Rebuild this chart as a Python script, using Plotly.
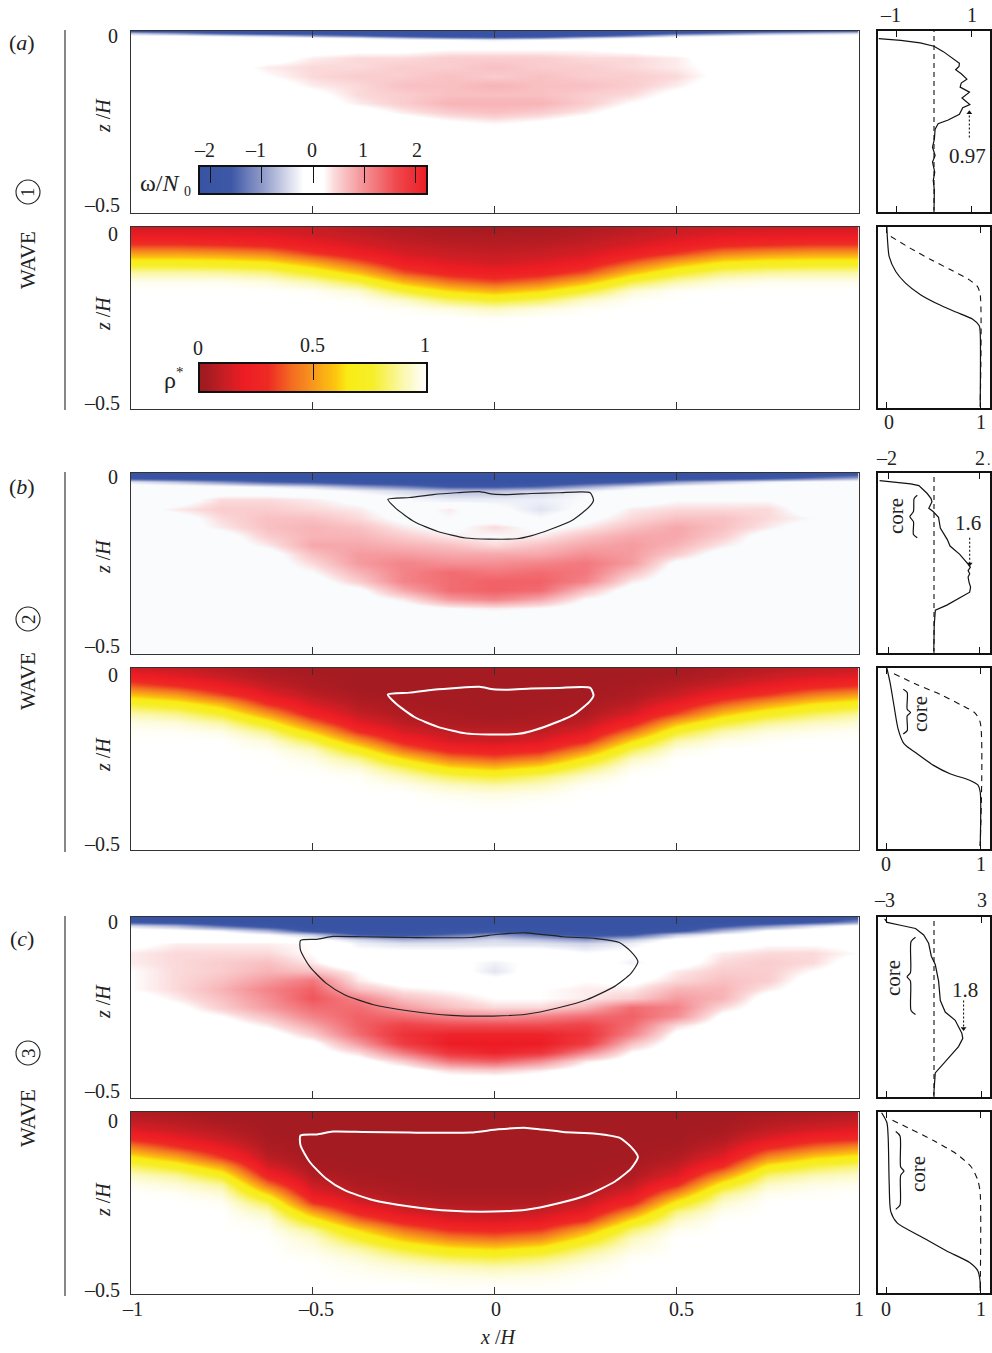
import plotly.graph_objects as go

W, H = 992, 1353
SERIF = "Liberation Serif"

# ---- station positions shared by all field tables
x_st = [-1, -.875, -.75, -.625, -.5, -.375, -.25, -.125, 0, .125, .25, .375, .5, .625, .75, .875, 1]

# ---- density tables: rho* in percent, read column by column from the colour bands
rho_rows = [0, .025, .05, .075, .1, .125, .15, .175, .2, .225, .25, .275, .3, .325, .35, .375, .4, .425, .45, .475, .5]
rho_a = [
 [12,12,12,11,10,7,5,4,3,4,5,7,10,11,12,12,12],
 [19,19,18,17,13,10,7,5,5,5,7,10,13,17,18,19,19],
 [32,32,30,27,20,14,10,8,7,8,10,14,20,27,30,32,32],
 [52,52,50,46,33,22,14,11,10,11,14,22,33,46,50,52,52],
 [71,71,70,66,54,38,21,16,13,16,21,38,54,66,70,71,71],
 [89,89,88,85,74,58,36,25,21,25,36,58,74,85,88,89,89],
 [98,98,98,96,90,78,56,42,35,42,56,78,90,96,98,98,98],
 [100,100,100,100,99,94,76,62,55,62,76,94,99,100,100,100,100],
 [100,100,100,100,100,99,93,81,75,81,93,99,100,100,100,100,100],
 [100,100,100,100,100,100,99,96,92,96,99,100,100,100,100,100,100],
 [100,100,100,100,100,100,100,100,99,100,100,100,100,100,100,100,100],
 [100]*17,[100]*17,[100]*17,[100]*17,[100]*17,[100]*17,[100]*17,[100]*17,[100]*17,[100]*17,
]
rho_b = [
 [12,10,7,4,3,3,3,3,3,3,3,3,3,5,7,9,10],
 [22,17,11,6,4,3,3,3,3,3,3,3,4,7,11,15,17],
 [38,30,20,10,5,3,3,3,3,3,3,4,7,12,19,26,31],
 [58,50,34,17,8,4,3,3,3,3,3,5,11,22,32,44,51],
 [76,70,56,30,14,6,4,3,3,3,4,8,20,38,52,64,71],
 [90,86,75,50,24,10,5,4,3,4,5,14,34,58,72,81,87],
 [97,95,89,70,41,17,8,5,5,5,9,25,56,76,87,92,95],
 [99,99,97,86,61,30,14,9,8,9,16,42,75,90,96,98,99],
 [100,100,100,95,79,50,25,14,12,15,28,62,89,97,99,100,100],
 [100,100,100,99,92,70,42,26,22,27,47,80,97,100,100,100,100],
 [100,100,100,100,97,86,63,44,38,45,67,92,100,100,100,100,100],
 [100,100,100,100,99,95,81,64,58,66,83,98,100,100,100,100,100],
 [100,100,100,100,100,99,92,82,77,84,94,100,100,100,100,100,100],
 [100,100,100,100,100,100,98,93,90,93,99,100,100,100,100,100,100],
 [100,100,100,100,100,100,100,98,97,98,100,100,100,100,100,100,100],
 [100,100,100,100,100,100,100,100,99,100,100,100,100,100,100,100,100],
 [100]*17,[100]*17,[100]*17,[100]*17,[100]*17,
]
rho_c = [
 [6,4,3,3,3,3,3,3,3,3,3,3,3,3,4,5,6],
 [9,7,4,3,3,3,3,3,3,3,3,3,3,3,6,8,10],
 [16,11,7,3,3,3,3,3,3,3,3,3,3,4,9,14,17],
 [28,19,11,4,3,3,3,3,3,3,3,3,3,6,16,25,29],
 [47,33,19,5,3,3,3,3,3,3,3,3,4,10,29,41,49],
 [67,54,33,8,3,3,3,3,3,3,3,3,6,17,48,62,69],
 [83,73,54,14,4,3,3,3,3,3,3,4,10,30,68,79,85],
 [93,88,73,25,6,4,3,3,3,3,3,5,16,50,84,91,94],
 [98,95,88,42,11,5,4,3,3,3,4,9,29,70,93,97,98],
 [100,99,95,62,18,8,5,4,4,4,6,16,48,86,98,99,100],
 [100,100,99,80,31,14,8,6,6,6,11,27,68,94,100,100,100],
 [100,100,100,91,52,25,14,10,9,11,18,46,85,98,100,100,100],
 [100,100,100,97,71,42,25,17,15,18,31,66,93,100,100,100,100],
 [100,100,100,99,87,62,42,30,27,32,52,83,98,100,100,100,100],
 [100,100,100,100,94,76,58,46,42,48,68,92,100,100,100,100,100],
 [100,100,100,100,97,89,76,66,62,68,84,96,100,100,100,100,100],
 [100,100,100,100,99,95,88,81,78,83,92,99,100,100,100,100,100],
 [100,100,100,100,100,98,95,92,90,92,97,100,100,100,100,100,100],
 [100,100,100,100,100,99,98,97,96,97,99,100,100,100,100,100,100],
 [100,100,100,100,100,100,100,99,99,99,100,100,100,100,100,100,100],
 [100]*17,
]

# ---- vorticity tables: omega/N0 times ten; a fine table for the surface layer, a coarser one below
om_top_rows_a = [0, .00625, .0125, .01875, .025]
om_top_a = [
 [-22,-22,-22,-22,-22,-22,-22,-22,-22,-22,-22,-22,-22,-22,-22,-20,-18],
 [-8,-12,-18,-22,-22,-22,-22,-22,-22,-22,-22,-22,-18,-14,-10,-8,-6],
 [-1,-2,-4,-6,-10,-14,-20,-22,-22,-22,-18,-12,-5,-3,-1,0,0],
 [0,0,0,-1,-2,-4,-8,-12,-14,-12,-6,-3,-1,0,0,0,0],
 [0,0,0,0,0,0,-1,-2,-3,-2,-1,0,0,0,0,0,0],
]
om_low_rows_a = [.025, .05, .075, .1, .125, .15, .175, .2, .225, .25, .275, .3, .325, .35, .375, .4, .425, .45, .475, .5]
om_low_a = [
 [0,0,0,0,0,0,-1,-2,-3,-2,-1,0,0,0,0,0,0],
 [0,0,0,0,0,1,1,2,2,2,2,1,0,0,0,0,0],
 [0,0,0,0,3,4,4,5,5,5,4,4,3,0,0,0,0],
 [0,0,0,3,4,4,5,5,6,5,5,4,3,1,0,0,0],
 [0,0,0,2,4,5,5,6,5,6,5,5,4,1,0,0,0],
 [0,0,0,0,3,4,6,6,7,6,6,5,3,0,0,0,0],
 [0,0,0,0,1,4,5,6,6,6,5,4,1,0,0,0,0],
 [0,0,0,0,0,3,5,7,7,7,5,2,0,0,0,0,0],
 [0,0,0,0,0,0,3,5,6,5,3,0,0,0,0,0,0],
 [0,0,0,0,0,0,0,2,3,2,0,0,0,0,0,0,0],
 [0]*17,[0]*17,[0]*17,[0]*17,[0]*17,[0]*17,[0]*17,[0]*17,[0]*17,[0]*17,
]
om_top_rows_bc = [0, .0125, .025, .0375, .05, .0625, .075]
om_low_rows_bc = [.075, .1, .125, .15, .175, .2, .225, .25, .275, .3, .325, .35, .375, .4, .425, .45, .475, .5]
om_top_b = [
 [-22,-22,-22,-22,-22,-22,-22,-22,-22,-22,-22,-22,-22,-22,-22,-22,-20],
 [-20,-22,-22,-22,-22,-22,-22,-22,-22,-22,-22,-22,-22,-22,-19,-14,-10],
 [-4,-7,-11,-15,-17,-20,-21,-22,-22,-22,-19,-16,-10,-6,-3,-1,0],
 [0,0,-1,-3,-5,-9,-12,-16,-16,-14,-9,-4,-1,0,0,0,0],
 [0,0,0,0,-1,-3,-5,-7,-7,-5,-3,-1,0,0,0,0,0],
 [0,0,2,2,1,-1,-3,-5,-5,-4,-2,0,1,1,1,0,0],
 [0,0,4,4,3,1,-2,-3,-3,-3,-2,0,2,2,2,0,0],
]
om_low_b = [
 [0,0,4,4,3,1,-2,-3,-3,-3,-2,0,2,2,2,0,0],
 [0,3,5,5,4,3,0,3,-1,-4,-1,3,4,4,4,0,0],
 [0,0,4,6,6,4,1,2,0,-2,1,4,6,6,4,2,0],
 [0,0,3,6,7,6,3,1,4,1,3,6,8,6,3,0,0],
 [0,0,0,5,7,7,5,3,2,3,6,8,8,5,0,0,0],
 [0,0,0,3,8,8,7,6,4,6,8,9,7,3,0,0,0],
 [0,0,0,0,6,9,9,8,8,8,10,9,5,0,0,0,0],
 [0,0,0,0,4,9,11,10,10,11,12,9,1,0,0,0,0],
 [0,0,0,0,2,7,11,13,12,13,12,6,0,0,0,0,0],
 [0,0,0,0,0,5,11,13,14,14,11,3,0,0,0,0,0],
 [0,0,0,0,0,1,8,13,14,13,6,0,0,0,0,0,0],
 [0,0,0,0,0,0,3,9,11,8,2,0,0,0,0,0,0],
 [0,0,0,0,0,0,0,2,3,2,0,0,0,0,0,0,0],
 [0]*17,[0]*17,[0]*17,[0]*17,[0]*17,
]
om_top_c = [
 [-22,-22,-22,-22,-22,-22,-22,-22,-22,-22,-22,-22,-22,-22,-22,-22,-18],
 [-18,-20,-22,-22,-22,-22,-22,-22,-22,-22,-22,-22,-22,-22,-22,-18,-11],
 [-5,-8,-14,-19,-22,-22,-22,-22,-22,-22,-22,-22,-22,-17,-11,-5,-1],
 [0,-1,-3,-8,-18,-22,-22,-20,-19,-20,-22,-22,-18,-8,-2,0,0],
 [0,0,0,-2,-6,-16,-18,-14,-10,-14,-18,-16,-6,-2,0,0,0],
 [0,0,0,0,-1,-5,-8,-7,-5,-7,-10,-6,-1,0,0,0,0],
 [1,3,3,3,2,-3,-4,-4,-4,-4,-5,-3,0,0,2,2,1],
]
om_low_c = [
 [1,3,3,3,2,-3,-4,-4,-4,-4,-5,-3,0,0,2,2,1],
 [3,4,4,4,2,-1,-1,-1,0,0,-2,-1,0,3,4,4,2],
 [3,4,5,6,3,-2,0,-1,-3,-1,0,-3,0,4,5,4,0],
 [2,4,5,7,6,2,0,0,-4,0,0,-1,3,5,5,2,0],
 [2,4,6,9,12,3,0,0,-1,0,2,1,4,6,5,0,0],
 [2,4,7,11,14,6,3,2,1,2,3,3,7,7,3,0,0],
 [0,3,6,10,15,11,6,4,2,2,3,5,9,7,0,0,0],
 [0,1,5,9,13,13,9,6,4,4,7,13,11,4,0,0,0],
 [0,0,2,6,11,14,13,11,10,11,13,14,10,1,0,0,0],
 [0,0,0,3,8,14,17,16,16,16,17,13,4,0,0,0,0],
 [0,0,0,0,5,13,19,21,21,21,19,11,1,0,0,0,0],
 [0,0,0,0,1,9,18,22,22,22,18,6,0,0,0,0,0],
 [0,0,0,0,0,4,12,19,21,19,11,2,0,0,0,0,0],
 [0,0,0,0,0,0,5,12,14,10,3,0,0,0,0,0,0],
 [0,0,0,0,0,0,0,4,5,3,0,0,0,0,0,0,0],
 [0]*17,[0]*17,[0]*17,
]

# ---- core outlines
core_b_x = [-.293,-.233,-.169,-.105,-.041,-.003,.036,.1,.176,.263,.272,.26,.215,.151,.1,.061,-.015,-.079,-.156,-.22,-.271,-.293]
core_b_z = [-.074,-.069,-.061,-.056,-.053,-.06,-.061,-.058,-.056,-.056,-.077,-.095,-.131,-.158,-.175,-.183,-.184,-.181,-.163,-.136,-.099,-.074]
core_c_x = [-.533,-.488,-.444,-.361,-.233,-.066,.01,.087,.189,.279,.343,.375,.394,.375,.33,.253,.176,.087,-.003,-.118,-.233,-.335,-.412,-.463,-.508,-.533,-.533]
core_c_z = [-.066,-.063,-.055,-.056,-.058,-.058,-.049,-.045,-.056,-.061,-.072,-.097,-.125,-.157,-.193,-.23,-.252,-.27,-.275,-.273,-.261,-.243,-.216,-.184,-.138,-.093,-.066]

# ---- side profiles
om_prof_a_v = [-1.48,-.89,-.37,0,.25,.55,.68,.67,.58,.73,.88,.73,.70,.95,.75,.96,.77,.68,.38,.11,.03,.01,-.04,.03,-.04,.02,-.02,.01,0]
om_prof_a_z = [-.021,-.026,-.033,-.042,-.057,-.08,-.089,-.098,-.107,-.118,-.133,-.144,-.155,-.169,-.185,-.203,-.212,-.23,-.246,-.256,-.271,-.299,-.321,-.344,-.362,-.39,-.413,-.44,-.496]
rho_prof_a_v = [0,.007,.025,.095,.2,.36,.54,.74,.92,.99,1,1]
rho_prof_a_z = [0,-.036,-.082,-.123,-.155,-.187,-.212,-.235,-.255,-.273,-.291,-.496]
rho_ref_a_v = [.042,.253,.463,.674,.884,.97,1,1]
rho_ref_a_z = [-.026,-.059,-.089,-.117,-.146,-.164,-.187,-.496]

om_prof_b_v = [-2.41,-1.75,-1.03,-.67,-.45,-.30,-.13,-.09,-.23,-.04,.2,.28,.59,.71,1.14,1.41,1.51,1.61,1.51,1.58,1.51,1.55,1.62,1.58,1.07,.57,.06,.01,-.01]
om_prof_b_z = [-.021,-.026,-.03,-.035,-.048,-.057,-.071,-.08,-.098,-.107,-.123,-.153,-.185,-.203,-.226,-.244,-.253,-.262,-.271,-.28,-.289,-.303,-.317,-.331,-.349,-.367,-.381,-.422,-.495]
rho_prof_b_v = [0,.035,.077,.12,.183,.324,.5,.676,.887,.975,1,1]
rho_prof_b_z = [0,-.041,-.105,-.168,-.209,-.237,-.269,-.292,-.31,-.323,-.342,-.492]
rho_ref_b_v = [.077,.324,.57,.817,.94,1,1]
rho_ref_b_z = [-.016,-.046,-.073,-.105,-.123,-.15,-.492]

om_prof_c_v = [-3.12,-2.96,-2.12,-1.17,-.65,-.34,-.17,.08,.29,.4,.71,1.34,1.76,1.82,1.55,.82,.08,-.02]
om_prof_c_z = [-.005,-.015,-.023,-.032,-.05,-.073,-.109,-.132,-.178,-.232,-.264,-.287,-.323,-.337,-.36,-.396,-.433,-.496]
rho_prof_c_v = [-.056,0,.014,.025,.042,.113,.359,.641,.887,.975,1,1]
rho_prof_c_z = [-.002,-.029,-.07,-.198,-.275,-.307,-.343,-.384,-.416,-.439,-.471,-.494]
rho_ref_c_v = [.06,.254,.5,.746,.905,.975,1,1]
rho_ref_c_z = [-.023,-.047,-.079,-.116,-.152,-.189,-.225,-.494]

# ---- braces marking the core, and dotted peak markers
br_b1 = ([-.74,-.88,-.91,-1.07,-.91,-.91,-.74], [-.062,-.071,-.107,-.121,-.135,-.171,-.18])
br_b2 = ([.176,.218,.218,.254,.218,.218,.176], [-.059,-.068,-.114,-.123,-.132,-.173,-.182])
br_c1 = ([-1.17,-1.45,-1.49,-1.7,-1.49,-1.45,-1.17], [-.056,-.068,-.155,-.166,-.178,-.26,-.271])
br_c2 = ([.095,.141,.148,.183,.148,.141,.095], [-.054,-.066,-.152,-.163,-.175,-.257,-.269])
peak_a = ([.947,.947], [-.294,-.226])
peak_b = ([1.58,1.58], [-.18,-.253])
peak_c = ([1.87,1.87], [-.232,-.31])

# ---- colour bars
bar_om = [-2.2,-2,-1.8,-1.6,-1.4,-1.2,-1,-.8,-.6,-.4,-.2,0,.2,.4,.6,.8,1,1.2,1.4,1.6,1.8,2,2.2]
bar_rho = [0,.05,.1,.15,.2,.25,.3,.35,.4,.45,.5,.55,.6,.65,.7,.75,.8,.85,.9,.95,1]

RHO_SCALE = [[0,"#9e1b20"],[.03,"#a41b21"],[.1,"#c51e24"],[.19,"#ed1c24"],[.3,"#ee2a24"],[.41,"#f36f21"],
             [.49,"#f7941d"],[.59,"#fdc20f"],[.65,"#f9ec14"],[.76,"#f6ee2a"],[.9,"#fbf8b0"],[1,"#ffffff"]]
def om_scale(bg):
    stops = [(-2.2,"#3953a4"),(-1.6,"#3e58a7"),(-1,"#8f9ac9"),(-.5,"#d4d8ea"),(-.2,bg),(.2,bg),
             (.4,"#fbd9da"),(1,"#f48f94"),(1.6,"#ef4a4f"),(2.2,"#ed1c24")]
    return [[(v+2.2)/4.4,c] for v,c in stops]

fig = go.Figure()
layout_axes = {}
counter = [0]

def new_axes(px0, px1, py0, py1, xr, yr, xticks=(), ticklen=7, lw=1, lc="#333333", side=None):
    counter[0] += 1
    n = counter[0]
    sfx = "" if n == 1 else str(n)
    layout_axes["xaxis"+sfx] = dict(domain=[px0/W, px1/W], range=list(xr), anchor="y"+sfx, showgrid=False, zeroline=False,
        showline=True, mirror=True, linecolor=lc, linewidth=lw, tickmode="array", tickvals=list(xticks),
        showticklabels=False, ticks="inside" if xticks else "", ticklen=ticklen, tickcolor=lc, tickwidth=1,
        **({"side":side} if side else {}))
    layout_axes["yaxis"+sfx] = dict(domain=[1-py1/H, 1-py0/H], range=list(yr), anchor="x"+sfx, showgrid=False, zeroline=False,
        showline=True, mirror=True, linecolor=lc, linewidth=lw, showticklabels=False, ticks="")
    return "x"+sfx, "y"+sfx

def field(xa, ya, rows, table, scale, lo, hi):
    fig.add_trace(go.Heatmap(x=x_st, y=[-d for d in rows], z=table, colorscale=scale, zmin=lo, zmax=hi,
                             zsmooth="best", showscale=False, hoverinfo="skip", xaxis=xa, yaxis=ya))

def main_panel(py0, py1, layers, scale, lo, hi, cx=None, cz=None, lc=None, lw=1.2):
    xa, ya = new_axes(130.5, 858.5, py0+.5, py1-.5, (-1, 1), (-.5, 0), xticks=(-.5, 0, .5))
    layout_axes["xaxis"+xa[1:]]["mirror"] = "allticks"
    for rows, table in layers:
        field(xa, ya, rows, table, scale, lo, hi)
    if cx:
        fig.add_trace(go.Scatter(x=cx, y=cz, mode="lines", line=dict(color=lc, width=lw, shape="spline", smoothing=.6),
                                 hoverinfo="skip", xaxis=xa, yaxis=ya))

def line(xa, ya, xs, zs, dash="solid", width=1.2, spline=False):
    fig.add_trace(go.Scatter(x=xs, y=zs, mode="lines", hoverinfo="skip", xaxis=xa, yaxis=ya,
        line=dict(color="#111111", width=width, dash=dash, shape="spline" if spline else "linear", smoothing=.7)))

def om_side(py0, py1, span, ticks, v, z, brace=None, peak=None):
    xa, ya = new_axes(878, 990, py0+1, py1-1, (-span, span), (-.5, 0), xticks=ticks, ticklen=6, lw=2, lc="#111111")
    layout_axes["xaxis"+xa[1:]]["mirror"] = "allticks"
    line(xa, ya, [0, 0], [-.5, 0], dash="5px,4px", width=1.1)
    line(xa, ya, v, z)
    if brace:
        line(xa, ya, brace[0], brace[1], width=1.2, spline=True)
    if peak:
        line(xa, ya, peak[0], peak[1], dash="2px,2px", width=1.1)
        up = peak[1][1] > peak[1][0]
        fig.add_trace(go.Scatter(x=[peak[0][1]], y=[peak[1][1]], mode="markers", hoverinfo="skip", xaxis=xa, yaxis=ya,
            marker=dict(symbol="triangle-up" if up else "triangle-down", size=5, color="#111111")))

def rho_side(py0, py1, v, z, rv, rz, brace=None):
    xa, ya = new_axes(878, 990, py0+1, py1-1, (-.095, 1.105), (-.5, 0), xticks=(0, 1), ticklen=6, lw=2, lc="#111111")
    layout_axes["xaxis"+xa[1:]]["mirror"] = "allticks"
    line(xa, ya, rv, rz, dash="6px,5px", width=1.1, spline=True)
    line(xa, ya, v, z, spline=True)
    if brace:
        line(xa, ya, brace[0], brace[1], width=1.2, spline=True)

BG_B = "#f9fbfd"
main_panel(30, 213, [(om_low_rows_a, om_low_a), (om_top_rows_a, om_top_a)], om_scale("#ffffff"), -22, 22)
main_panel(226, 409, [(rho_rows, rho_a)], RHO_SCALE, 0, 100)
main_panel(472, 654, [(om_low_rows_bc, om_low_b), (om_top_rows_bc, om_top_b)], om_scale(BG_B), -22, 22, core_b_x, core_b_z, "#222222")
main_panel(667, 850, [(rho_rows, rho_b)], RHO_SCALE, 0, 100, core_b_x, core_b_z, "#ffffff", 2)
main_panel(916, 1098, [(om_low_rows_bc, om_low_c), (om_top_rows_bc, om_top_c)], om_scale("#ffffff"), -22, 22, core_c_x, core_c_z, "#222222")
main_panel(1111, 1294, [(rho_rows, rho_c)], RHO_SCALE, 0, 100, core_c_x, core_c_z, "#ffffff", 2)

om_side(30, 213, 1.5, (-1, 1), om_prof_a_v, om_prof_a_z, peak=peak_a)
rho_side(226, 409, rho_prof_a_v, rho_prof_a_z, rho_ref_a_v, rho_ref_a_z)
om_side(472, 654, 2.48, (-2, 2), om_prof_b_v, om_prof_b_z, brace=br_b1, peak=peak_b)
rho_side(667, 850, rho_prof_b_v, rho_prof_b_z, rho_ref_b_v, rho_ref_b_z, brace=br_b2)
om_side(916, 1098, 3.54, (-3, 3), om_prof_c_v, om_prof_c_z, brace=br_c1, peak=peak_c)
rho_side(1111, 1294, rho_prof_c_v, rho_prof_c_z, rho_ref_c_v, rho_ref_c_z, brace=br_c2)

# colour bars
xa, ya = new_axes(200, 426, 167, 193, (-2.2, 2.2), (0, 1), xticks=(-2, -1, 0, 1, 2), ticklen=16, lw=1.6, lc="#111111", side="top")
fig.add_trace(go.Heatmap(x=bar_om, y=[0, 1], z=[[v*10 for v in bar_om]]*2, colorscale=om_scale("#ffffff"), zmin=-22, zmax=22,
                         zsmooth="best", showscale=False, hoverinfo="skip", xaxis=xa, yaxis=ya))
xa, ya = new_axes(200, 426, 364, 391, (0, 1), (0, 1), xticks=(.5,), ticklen=16, lw=1.6, lc="#111111", side="top")
fig.add_trace(go.Heatmap(x=bar_rho, y=[0, 1], z=[[v*100 for v in bar_rho]]*2, colorscale=RHO_SCALE, zmin=0, zmax=100,
                         zsmooth="best", showscale=False, hoverinfo="skip", xaxis=xa, yaxis=ya))

ann = []
def T(px, py, text, size=20, angle=0, color="#222222"):
    ann.append(dict(x=px/W, y=1-py/H, xref="paper", yref="paper", text=text, showarrow=False, xanchor="center", yanchor="middle",
                    textangle=angle, font=dict(family=SERIF, size=size, color=color)))

for y0, y5 in [(36, 205), (234, 403), (477, 646), (675, 844), (922, 1091), (1121, 1290)]:
    T(113, y0, "0"); T(102, y5, "–0.5")
for py in [116, 314, 557, 755, 1002, 1200]:
    T(103, py, "<i>z</i> /<i>H</i>", 20, -90)
for px, s in [(132, "–1"), (316, "–0.5"), (496, "0"), (681, "0.5"), (859, "1")]:
    T(px, 1309, s)
T(498, 1337, "<i>x</i> /<i>H</i>", 20)
T(22, 43, "(<i>a</i>)", 22); T(22, 487, "(<i>b</i>)", 22); T(22, 938, "(<i>c</i>)", 22)
for py in [260, 681, 1118]:
    T(28, py, "WAVE", 21, -90)
for py, s in [(192, "1"), (619, "2"), (1053, "3")]:
    T(28, py, s, 19, -90)
for px, s in [(204, "–2"), (255, "–1"), (312, "0"), (363, "1"), (417, "2")]:
    T(px, 150, s)
T(160, 183, "ω/<i>N</i>", 24); T(187, 192, "0", 14)
T(198, 348, "0"); T(312, 345, "0.5"); T(425, 345, "1")
T(170, 380, "ρ", 24); T(180, 372, "*", 15)
# side labels
T(890, 15, "–1"); T(972, 15, "1"); T(889, 422, "0"); T(981, 422, "1")
T(886, 458, "–2"); T(980, 458, "2"); T(989, 460, ".", 14); T(886, 864, "0"); T(981, 864, "1")
T(884, 900, "–3"); T(982, 900, "3"); T(886, 1309, "0"); T(981, 1309, "1")
T(967, 156, "0.97", 21); T(968, 523, "1.6", 21); T(965, 990, "1.8", 21)
T(896, 516, "core", 21, -90); T(920, 714, "core", 21, -90); T(893, 978, "core", 21, -90); T(918, 1174, "core", 21, -90)

shapes = []
for y0, y1 in [(30, 410), (472, 852), (916, 1296)]:
    shapes.append(dict(type="line", xref="paper", yref="paper", x0=65/W, x1=65/W, y0=1-y0/H, y1=1-y1/H, line=dict(color="#555555", width=1.4)))
for py in [192, 619, 1053]:
    shapes.append(dict(type="circle", xref="paper", yref="paper", x0=16/W, x1=40/W, y0=1-(py+12)/H, y1=1-(py-12)/H, line=dict(color="#222222", width=1.1)))

fig.update_layout(width=W, height=H, autosize=False, margin=dict(l=0, r=0, t=0, b=0), paper_bgcolor="white", plot_bgcolor="white",
                  showlegend=False, annotations=ann, shapes=shapes, font=dict(family=SERIF), **layout_axes)
fig.write_html("out.html", config={"displayModeBar": False},
               post_script="document.body.style.margin='0';document.documentElement.style.overflow='hidden';")
